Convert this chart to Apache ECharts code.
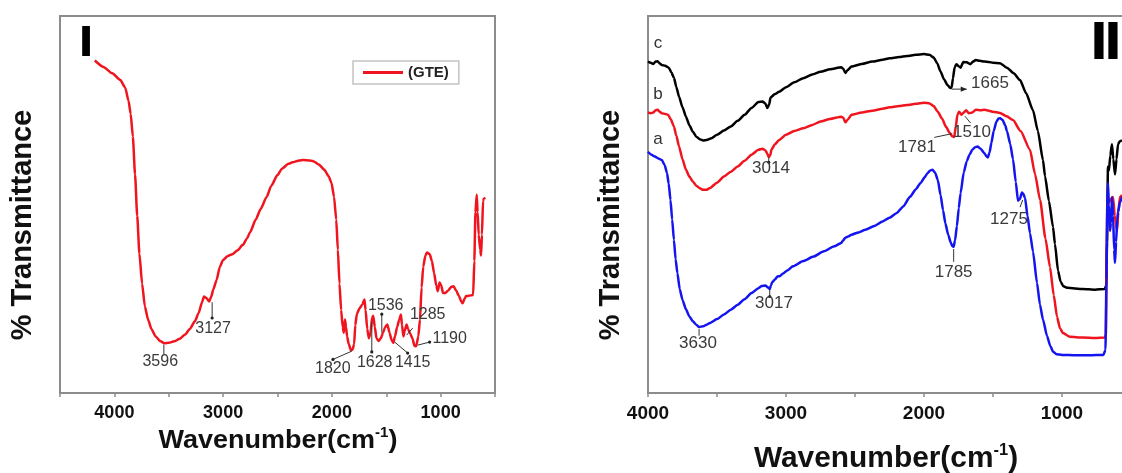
<!DOCTYPE html>
<html>
<head>
<meta charset="utf-8">
<script src="https://cdn.jsdelivr.net/npm/echarts@6/dist/echarts.min.js"></script>
<style>
  html, body { margin: 0; padding: 0; background: #fff; overflow: hidden; width: 1122px; height: 473px; }
  /* the right-hand frame runs on past the page edge, so the drawing surface is a little wider */
  #main { width: 1150px; height: 473px; }
</style>
</head>
<body>
<div id="main"></div>
<script>
// ---- Panel I: FTIR spectrum of GTE, [wavenumber cm-1, % transmittance] ----
const gteSpectrum = [
  [4180, 88.2], [4100, 86.5], [4020, 84.8], [3945, 83.0], [3900, 81.0], [3870, 77.5],
  [3850, 74.0], [3830, 68.0], [3810, 58.0], [3790, 47.0], [3770, 37.0], [3745, 29.0],
  [3720, 23.0], [3690, 19.5], [3660, 17.0], [3620, 15.0], [3580, 13.8], [3540, 13.2],
  [3500, 13.3], [3450, 13.7], [3404, 14.3], [3350, 15.5], [3306, 17.0], [3260, 19.0],
  [3225, 21.2], [3195, 24.0], [3176, 25.6], [3155, 25.2], [3127, 24.3], [3110, 25.5],
  [3090, 27.5], [3060, 30.0], [3030, 33.5], [3000, 35.3], [2960, 36.3], [2915, 36.8],
  [2870, 37.8], [2818, 39.3], [2780, 41.0], [2753, 42.6], [2700, 46.0], [2655, 48.8],
  [2600, 52.0], [2557, 55.0], [2500, 57.8], [2459, 59.5], [2400, 60.8], [2362, 61.2],
  [2300, 61.7], [2264, 61.8], [2200, 61.7], [2166, 61.4], [2120, 60.6], [2069, 59.2],
  [2030, 57.5], [2003, 55.7], [1980, 52.0], [1960, 46.0], [1945, 38.0], [1930, 29.0],
  [1915, 22.0], [1900, 17.5], [1890, 16.0], [1880, 19.5], [1870, 17.5], [1860, 15.0],
  [1845, 13.0], [1825, 11.3], [1810, 11.5], [1795, 13.0], [1785, 18.0], [1770, 21.0],
  [1745, 22.5], [1720, 23.5], [1700, 24.8], [1690, 22.0], [1675, 17.0], [1660, 14.5],
  [1645, 16.0], [1630, 20.0], [1620, 20.5], [1605, 17.5], [1590, 14.5], [1570, 13.8],
  [1550, 14.5], [1530, 16.0], [1510, 17.5], [1490, 18.2], [1470, 16.0], [1450, 14.0],
  [1435, 13.3], [1420, 15.0], [1400, 17.5], [1380, 19.5], [1365, 20.8], [1355, 18.0],
  [1342, 15.0], [1330, 16.5], [1313, 18.2], [1300, 17.0], [1280, 15.8], [1260, 14.5],
  [1240, 12.5], [1225, 12.4], [1205, 15.0], [1190, 19.5], [1175, 28.0], [1160, 33.5],
  [1140, 36.5], [1124, 37.3], [1100, 36.8], [1080, 35.0], [1060, 31.8], [1040, 28.5],
  [1026, 27.0], [1010, 29.3], [994, 28.5], [978, 26.5], [960, 26.5], [930, 27.2],
  [900, 28.2], [880, 28.3], [860, 27.3], [831, 25.7], [810, 24.2], [798, 23.8],
  [780, 25.0], [766, 25.7], [740, 25.8], [701, 26.0], [690, 35.0], [680, 48.0],
  [668, 52.6], [660, 48.0], [650, 42.0], [636, 38.0], [628, 36.5], [620, 42.0],
  [610, 51.0], [603, 51.5], [590, 51.8]
];

// ---- Panel II: spectra of samples a, b, c ----
const sampleC = [
  [4000, 87.9], [3980, 87.6], [3962, 87.3], [3945, 87.9], [3930, 88.0], [3915, 87.4],
  [3900, 87.0], [3875, 86.8], [3850, 86.3], [3830, 85.0], [3812, 83.6], [3795, 81.2],
  [3775, 78.6], [3750, 75.8], [3725, 73.3], [3700, 71.0], [3675, 69.3], [3650, 68.0],
  [3625, 67.3], [3600, 67.0], [3575, 67.1], [3540, 67.6], [3500, 68.5], [3450, 69.6],
  [3400, 70.7], [3350, 72.2], [3300, 73.8], [3250, 75.6], [3200, 77.2], [3170, 77.3],
  [3150, 76.8], [3135, 75.6], [3122, 76.5], [3112, 78.4], [3080, 79.3], [3050, 79.9],
  [3000, 81.1], [2940, 82.4], [2875, 83.5], [2810, 84.5], [2750, 85.2], [2680, 85.9],
  [2600, 86.4], [2585, 86.0], [2570, 84.9], [2555, 85.6], [2525, 86.6], [2450, 87.3],
  [2375, 87.9], [2300, 88.4], [2250, 88.8], [2180, 89.1], [2125, 89.4], [2060, 89.7],
  [2000, 89.9], [1960, 89.7], [1930, 89.0], [1905, 87.5], [1880, 85.3], [1855, 83.2],
  [1830, 81.7], [1810, 80.9], [1800, 81.0], [1790, 83.5], [1778, 86.4], [1765, 87.2],
  [1750, 86.7], [1735, 86.3], [1715, 87.8], [1690, 87.7], [1665, 87.2], [1645, 87.9],
  [1625, 88.3], [1595, 88.1], [1562, 87.9], [1530, 87.8], [1500, 87.6], [1449, 87.5],
  [1400, 86.3], [1350, 84.8], [1304, 83.0], [1260, 79.5], [1210, 75.0], [1175, 69.5],
  [1138, 61.8], [1123, 57.5], [1095, 51.0], [1065, 44.0], [1051, 39.5], [1029, 32.5],
  [1010, 29.5], [990, 28.3], [960, 27.9], [850, 27.6], [760, 27.4], [690, 27.6],
  [680, 28.5], [674, 40.0], [667, 60.0], [660, 59.0], [650, 63.0], [638, 66.0],
  [628, 62.0], [616, 58.0], [605, 62.0], [594, 66.0], [580, 66.8], [565, 67.0]
];

const sampleB = [
  [4000, 74.4], [3980, 74.2], [3962, 74.4], [3945, 75.0], [3930, 75.1], [3915, 74.6],
  [3900, 74.2], [3875, 74.0], [3855, 73.8], [3835, 72.6], [3812, 70.7], [3795, 68.3],
  [3775, 65.4], [3750, 62.0], [3725, 59.2], [3700, 57.4], [3675, 56.1], [3650, 55.0],
  [3625, 54.3], [3600, 53.9], [3575, 53.9], [3550, 54.4], [3500, 55.8], [3450, 57.4],
  [3400, 58.7], [3350, 60.1], [3300, 61.6], [3250, 63.2], [3200, 64.5], [3170, 64.8],
  [3150, 64.4], [3135, 63.4], [3125, 62.6], [3115, 63.0], [3105, 64.6], [3080, 66.0],
  [3050, 67.1], [3000, 68.5], [2940, 69.5], [2875, 70.2], [2810, 71.1], [2750, 72.0],
  [2680, 72.7], [2600, 73.3], [2585, 73.0], [2570, 71.8], [2555, 72.4], [2525, 73.8],
  [2450, 74.4], [2375, 74.9], [2300, 75.4], [2250, 75.8], [2180, 76.1], [2125, 76.4],
  [2060, 76.7], [2000, 77.0], [1960, 76.8], [1930, 76.1], [1900, 74.6], [1870, 72.8],
  [1840, 70.6], [1815, 69.0], [1795, 68.1], [1781, 67.9], [1770, 70.5], [1758, 73.8],
  [1745, 74.6], [1730, 73.8], [1712, 74.4], [1695, 75.0], [1675, 74.2], [1650, 74.4],
  [1625, 75.1], [1590, 75.0], [1562, 75.1], [1530, 74.9], [1500, 74.6], [1449, 74.3],
  [1400, 73.4], [1355, 72.4], [1300, 69.5], [1232, 64.5], [1195, 58.0], [1159, 51.2],
  [1120, 41.0], [1087, 33.4], [1060, 26.0], [1036, 20.2], [1015, 17.2], [993, 15.9],
  [942, 14.9], [850, 14.7], [760, 14.6], [690, 14.7], [682, 15.5], [676, 35.0],
  [672, 49.3], [660, 50.5], [645, 51.5], [630, 52.0], [618, 47.0], [601, 43.0],
  [592, 48.0], [580, 52.0], [565, 52.5]
];

const sampleA = [
  [4000, 64.0], [3975, 63.2], [3950, 62.7], [3925, 62.2], [3900, 61.8], [3880, 60.5],
  [3862, 58.3], [3850, 55.5], [3837, 51.2], [3825, 46.0], [3812, 40.6], [3800, 35.5],
  [3787, 31.8], [3770, 27.5], [3750, 24.7], [3725, 22.2], [3700, 20.3], [3675, 19.0],
  [3650, 18.1], [3630, 17.5], [3600, 17.7], [3575, 18.1], [3550, 18.6], [3500, 19.6],
  [3450, 20.8], [3400, 22.1], [3350, 23.4], [3300, 24.9], [3250, 26.5], [3200, 27.8],
  [3175, 28.4], [3150, 28.5], [3130, 28.0], [3118, 27.6], [3108, 28.6], [3100, 29.4],
  [3080, 30.1], [3062, 30.9], [3045, 31.0], [3025, 31.6], [2990, 32.5], [2950, 33.6],
  [2875, 35.0], [2800, 36.2], [2725, 37.6], [2650, 38.9], [2600, 39.8], [2585, 40.5],
  [2570, 41.2], [2550, 41.5], [2525, 42.0], [2475, 42.6], [2425, 43.3], [2360, 44.3],
  [2300, 45.5], [2250, 46.5], [2200, 47.7], [2150, 49.5], [2100, 52.1], [2060, 54.0],
  [2025, 55.7], [1995, 57.2], [1975, 58.3], [1955, 59.0], [1938, 59.2], [1920, 58.5],
  [1900, 56.5], [1880, 52.5], [1862, 48.5], [1845, 45.0], [1825, 42.0], [1805, 39.8],
  [1795, 39.0], [1785, 38.8], [1775, 40.5], [1762, 44.2], [1748, 49.0], [1735, 53.0],
  [1712, 58.5], [1690, 61.5], [1670, 63.2], [1650, 64.5], [1630, 65.2], [1612, 65.4],
  [1590, 64.8], [1562, 63.6], [1548, 62.8], [1537, 62.5], [1525, 63.8], [1512, 66.3],
  [1495, 69.5], [1475, 72.0], [1460, 72.8], [1449, 72.9], [1430, 72.4], [1412, 71.0],
  [1399, 69.5], [1375, 66.0], [1355, 62.0], [1335, 56.0], [1319, 51.0], [1305, 51.5],
  [1290, 53.2], [1283, 53.0], [1268, 51.8], [1250, 47.0], [1232, 42.4], [1210, 37.5],
  [1181, 29.2], [1160, 23.5], [1138, 19.5], [1109, 15.2], [1085, 12.5], [1065, 11.0],
  [1040, 10.3], [1000, 10.1], [900, 10.0], [800, 10.0], [700, 10.1], [685, 11.5],
  [678, 30.0], [672, 50.0], [667, 55.7], [660, 50.0], [653, 43.0], [645, 45.0],
  [638, 52.0], [630, 47.0], [622, 38.0], [616, 34.5], [608, 40.0], [600, 46.0],
  [594, 48.0], [580, 50.5], [565, 52.0]
];

// Peak annotations: label text, label anchor and leader line, in [wavenumber, %T]
const gtePeaks = [
  { text: '3596', at: [3578, 8.2],  lead: [[3545, 12.8], [3545, 10.2]] },
  { text: '3127', at: [3092, 17.2], lead: [[3101, 24.1], [3101, 19.9]], head: 'dot' },
  { text: '1820', at: [1991, 6.4],  lead: [[1817, 11.1], [1990, 8.9]], head: 'dot' },
  { text: '1628', at: [1606, 8.0],  lead: [[1633, 18.8], [1633, 10.9]], head: 'dot' },
  { text: '1536', at: [1505, 23.3], lead: [[1541, 16.0], [1541, 20.9]], head: 'dot' },
  { text: '1415', at: [1257, 8.0],  lead: [[1422, 13.5], [1303, 10.6]], head: 'dot' },
  { text: '1285', at: [1119, 20.7], lead: [[1312, 15.4], [1257, 17.2]] },
  { text: '1190', at: [917, 14.3],  lead: [[1211, 12.7], [1101, 13.5]], head: 'dot' }
];

const samplePeaks = [
  { text: '3630', at: [3638, 13.3], lead: [[3630, 17.0], [3630, 15.2]] },
  { text: '3017', at: [3087, 23.9], lead: [[3118, 27.4], [3118, 25.6]], head: 'dot' },
  { text: '3014', at: [3109, 59.7], lead: [[3125, 62.5], [3125, 61.2]], head: 'dot' },
  { text: '1785', at: [1785, 32.1], lead: [[1785, 38.2], [1785, 34.8]] },
  { text: '1781', at: [2051, 65.3], lead: [[1925, 67.8], [1795, 68.8]] },
  { text: '1510', at: [1652, 69.2], lead: [[1703, 73.4], [1662, 71.6]] },
  { text: '1665', at: [1522, 82.2], lead: [[1800, 80.6], [1690, 80.6]], head: 'arrow' },
  { text: '1275', at: [1384, 46.2], lead: [[1304, 49.3], [1285, 51.2]] }
];

const sampleLabels = [
  { text: 'c', at: [3928, 92.8] },
  { text: 'b', at: [3928, 79.3] },
  { text: 'a', at: [3928, 67.4] }
];

const FONT = '"Liberation Sans", Arial, Helvetica, sans-serif';
const FRAME = '#8c8c8c';
const RED = '#f0141e';
const BLUE = '#1414f0';
const BLACK = '#000000';

function xAxisFor(gridIndex, min, max, fontSize) {
  return {
    type: 'value', gridIndex: gridIndex, min: min, max: max, interval: 500, inverse: true,
    axisLine: { show: true, onZero: false, lineStyle: { color: FRAME, width: 2 } },
    axisTick: { show: true, inside: false, length: 4, lineStyle: { color: FRAME, width: 1.5 } },
    splitLine: { show: false },
    axisLabel: {
      margin: 11, fontFamily: FONT, fontWeight: 'bold', fontSize: fontSize, color: '#111',
      formatter: function (v) { return (v % 1000 === 0 && v > min && v < max) || (v === max && v % 1000 === 0) ? String(v) : ''; }
    }
  };
}

function yAxisFor(gridIndex) {
  return {
    type: 'value', gridIndex: gridIndex, min: 0, max: 100,
    axisLine: { show: true, lineStyle: { color: FRAME, width: 2 } },
    axisTick: { show: false }, axisLabel: { show: false }, splitLine: { show: false }
  };
}

function spectrum(name, data, color, axisIndex) {
  return {
    name: name, type: 'line', data: data, xAxisIndex: axisIndex, yAxisIndex: axisIndex,
    showSymbol: false, silent: true, smooth: 0.2, smoothMonotone: 'x',
    lineStyle: { color: color, width: 2.5 }, itemStyle: { color: color }
  };
}

const chart = echarts.init(document.getElementById('main'), null, { renderer: 'canvas' });

chart.setOption({
  animation: false,
  backgroundColor: '#ffffff',
  grid: [
    { left: 60, top: 16, width: 435, height: 377, show: true, borderColor: FRAME, borderWidth: 2, backgroundColor: 'transparent' },
    { left: 648, top: 16, width: 483, height: 377, show: true, borderColor: FRAME, borderWidth: 2, backgroundColor: 'transparent' }
  ],
  xAxis: [xAxisFor(0, 500, 4500, 18), xAxisFor(1, 500, 4000, 19)],
  yAxis: [yAxisFor(0), yAxisFor(1)],
  legend: {
    data: ['(GTE)'], left: 353, top: 61, orient: 'horizontal',
    icon: 'rect', itemWidth: 40, itemHeight: 3, itemGap: 6,
    padding: [4, 10], borderColor: '#c4c4c4', borderWidth: 1.5, backgroundColor: '#fff',
    textStyle: { fontFamily: FONT, fontWeight: 'bold', fontSize: 15, color: '#222' }
  },
  series: [
    spectrum('(GTE)', gteSpectrum, RED, 0),
    spectrum('c', sampleC, BLACK, 1),
    spectrum('b', sampleB, RED, 1),
    spectrum('a', sampleA, BLUE, 1)
  ]
});

// ---- text and leader lines placed through the axis scales ----
function px(grid, p) { return chart.convertToPixel({ gridIndex: grid }, p); }

const graphics = [];

function addPeaks(grid, peaks, fontSize) {
  peaks.forEach(function (pk) {
    const a = px(grid, pk.lead[0]);
    const b = px(grid, pk.lead[1]);
    graphics.push({
      type: 'line', silent: true, z: 10,
      shape: { x1: a[0], y1: a[1], x2: b[0], y2: b[1] },
      style: { stroke: '#333', lineWidth: 1 }
    });
    if (pk.head === 'dot') {
      graphics.push({ type: 'circle', silent: true, z: 10, shape: { cx: b[0], cy: b[1], r: 1.6 }, style: { fill: '#222' } });
    } else if (pk.head === 'arrow') {
      const ang = Math.atan2(b[1] - a[1], b[0] - a[0]);
      const L = 6, W = 2.6;
      const p1 = [b[0] - L * Math.cos(ang) + W * Math.sin(ang), b[1] - L * Math.sin(ang) - W * Math.cos(ang)];
      const p2 = [b[0] - L * Math.cos(ang) - W * Math.sin(ang), b[1] - L * Math.sin(ang) + W * Math.cos(ang)];
      graphics.push({ type: 'polygon', silent: true, z: 10, shape: { points: [b, p1, p2] }, style: { fill: '#222' } });
    }
    const t = px(grid, pk.at);
    graphics.push({
      type: 'text', silent: true, z: 11, x: t[0], y: t[1],
      style: { text: pk.text, fontFamily: FONT, fontSize: fontSize, fill: '#3a3a3a', align: 'center', verticalAlign: 'middle' }
    });
  });
}

addPeaks(0, gtePeaks, 16);
addPeaks(1, samplePeaks, 17);

sampleLabels.forEach(function (lb) {
  const t = px(1, lb.at);
  graphics.push({
    type: 'text', silent: true, z: 11, x: t[0], y: t[1],
    style: { text: lb.text, fontFamily: FONT, fontSize: 17, fill: '#333', align: 'center', verticalAlign: 'middle' }
  });
});

// panel marks
graphics.push({
  type: 'text', silent: true, z: 12, x: 86, y: 44,
  style: { text: 'I', fontFamily: FONT, fontWeight: 'bold', fontSize: 40, fill: '#000', stroke: '#000', lineWidth: 2, align: 'center', verticalAlign: 'middle' }
});
graphics.push({
  type: 'text', silent: true, z: 12, x: 1106, y: 44,
  style: { text: 'II', fontFamily: FONT, fontWeight: 'bold', fontSize: 50, fill: '#000', stroke: '#000', lineWidth: 2, align: 'center', verticalAlign: 'middle' }
});

// axis titles
function axisTitle(x, y, size, sx) {
  return {
    type: 'text', silent: true, z: 12, x: x, y: y, scaleX: sx, scaleY: 1,
    style: {
      text: '{m|Wavenumber(cm}{s|-1}{m|)}', align: 'center', verticalAlign: 'middle',
      rich: {
        m: { fontFamily: FONT, fontWeight: 'bold', fontSize: size, fill: '#111', lineHeight: size + 4, verticalAlign: 'middle' },
        s: { fontFamily: FONT, fontWeight: 'bold', fontSize: Math.round(size * 0.55), fill: '#111', lineHeight: Math.round(size * 0.6), verticalAlign: 'top' }
      }
    }
  };
}
graphics.push(axisTitle(278, 441, 25, 1.08));
graphics.push(axisTitle(886, 459, 29, 1.03));

function yTitle(x) {
  return {
    type: 'text', silent: true, z: 12, x: x, y: 225, rotation: Math.PI / 2,
    style: { text: '% Transmittance', fontFamily: FONT, fontWeight: 'bold', fontSize: 29, fill: '#111', align: 'center', verticalAlign: 'middle' }
  };
}
graphics.push(yTitle(23));
graphics.push(yTitle(611));

chart.setOption({ graphic: graphics });
</script>
</body>
</html>
